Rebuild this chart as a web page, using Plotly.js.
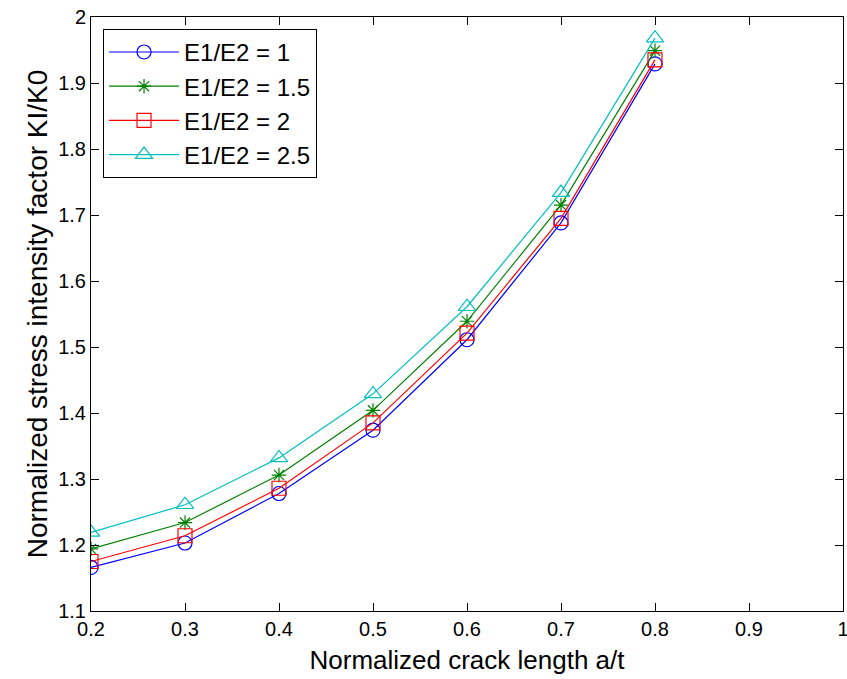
<!DOCTYPE html>
<html>
<head>
<meta charset="utf-8">
<script src="https://cdn.plot.ly/plotly-3.0.1.min.js"></script>
<style>html,body{margin:0;padding:0;background:#fff;}#chart{width:847px;height:679px;}</style>
</head>
<body>
<div id="chart"></div>
<script>
const crackLength = [0.2, 0.3, 0.4, 0.5, 0.6, 0.7, 0.8];
const seriesNames = ["E1/E2 = 1", "E1/E2 = 1.5", "E1/E2 = 2", "E1/E2 = 2.5"];
const kRatio1   = [1.166, 1.203, 1.278, 1.374, 1.511, 1.688, 1.929];
const kRatio15  = [1.194, 1.234, 1.306, 1.404, 1.539, 1.715, 1.949];
const kRatio2   = [1.175, 1.214, 1.286, 1.385, 1.521, 1.695, 1.935];
const kRatio25  = [1.219, 1.261, 1.332, 1.429, 1.561, 1.734, 1.968];
const xTicks = [0.2, 0.3, 0.4, 0.5, 0.6, 0.7, 0.8, 0.9, 1];
const yTicks = [1.1, 1.2, 1.3, 1.4, 1.5, 1.6, 1.7, 1.8, 1.9, 2];

const seriesValues = [kRatio1, kRatio15, kRatio2, kRatio25];
const colors = ["#0000ff", "#008000", "#ff0000", "#00bfbf"];
const symbols = ["circle-open", "asterisk-open", "square-open", "triangle-up-open"];
const sizes = [14, 12, 14, 15];

const traces = seriesValues.map((vals, i) => ({
  x: crackLength, y: vals, name: seriesNames[i],
  type: "scatter", mode: "lines+markers",
  line: {color: colors[i], width: 1.2},
  marker: {symbol: symbols[i], size: sizes[i], color: colors[i], line: {color: colors[i], width: 1.2}}
}));

const font = "Liberation Sans, Arial, sans-serif";
const layout = {
  width: 847, height: 679,
  margin: {l: 91, r: 4, t: 17, b: 68},
  paper_bgcolor: "#fff", plot_bgcolor: "#fff",
  showlegend: true,
  font: {family: font, color: "#000"},
  xaxis: {
    range: [0.2, 1], tickvals: xTicks, ticktext: xTicks.map(String),
    ticks: "inside", ticklen: 8, tickcolor: "#000", showgrid: false, zeroline: false,
    showline: true, linecolor: "#000", linewidth: 1, mirror: "ticks",
    ticklabeloverflow: "allow",
    tickfont: {size: 20, family: font},
    title: {text: "Normalized crack length a/t", font: {size: 26, family: font}, standoff: 11}
  },
  yaxis: {
    range: [1.1, 2], tickvals: yTicks, ticktext: yTicks.map(String),
    ticks: "inside", ticklen: 8, tickcolor: "#000", showgrid: false, zeroline: false,
    showline: true, linecolor: "#000", linewidth: 1, mirror: "ticks",
    tickfont: {size: 20, family: font},
    title: {text: "Normalized stress intensity factor KI/K0", font: {size: 28, family: font}, standoff: 2}
  },
  legend: {
    x: 0.016, y: 0.98, xanchor: "left", yanchor: "top",
    bgcolor: "#fff", bordercolor: "#000", borderwidth: 1,
    font: {size: 24, family: font}, itemwidth: 70
  }
};

Plotly.newPlot("chart", traces, layout, {displayModeBar: false, staticPlot: true});
</script>
</body>
</html>
